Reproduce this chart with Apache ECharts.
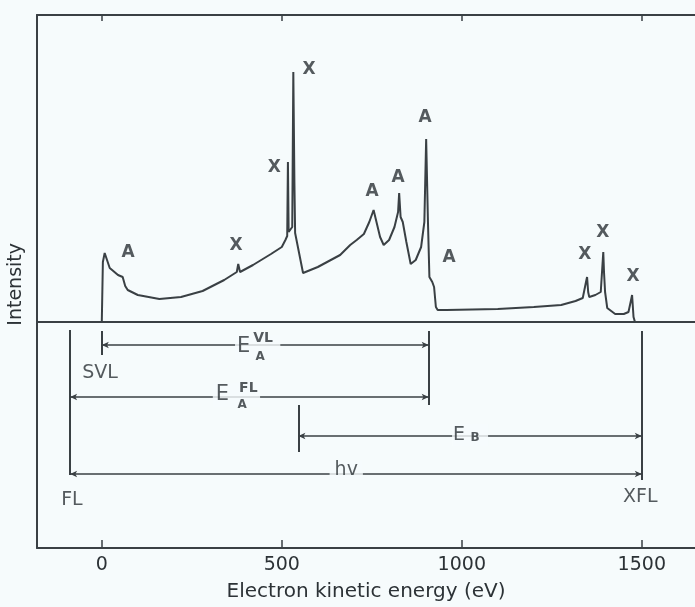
<!DOCTYPE html>
<html>
<head>
<meta charset="utf-8">
<script src="https://cdn.jsdelivr.net/npm/echarts@6/dist/echarts.min.js"></script>
<style>
  html, body { margin: 0; padding: 0; background: #f6fbfc; }
  #chart { width: 695px; height: 607px; }
</style>
</head>
<body>
<div id="chart"></div>
<script>
// Electron kinetic energy (eV) vs. intensity (arbitrary units)
const energy = [0, 3, 8, 22, 45, 58, 65, 72, 100, 160, 220, 280, 340, 375, 379, 384, 420, 470, 500, 510,
  515, 517, 519, 524, 529, 532, 535, 537, 559, 600, 662, 690, 708, 728, 743, 755, 763, 773, 783, 798,
  813, 823, 826, 830, 836, 846, 858, 872, 887, 896, 901, 906, 910, 918, 923, 928, 933, 958, 1100, 1200,
  1276, 1316, 1336, 1345, 1348, 1351, 1354, 1371, 1386, 1393, 1395, 1398, 1404, 1426, 1450, 1463, 1469, 1473, 1477, 1481];
const intensity = [0, 60, 69, 54, 47, 45, 36, 32, 27, 23, 25, 31, 42, 50, 58, 50, 57, 68, 75, 82,
  86, 160, 90, 92, 95, 250, 140, 89, 49, 55, 67, 77, 82, 88, 100, 112, 100, 85, 77, 82,
  95, 110, 129, 105, 100, 80, 58, 62, 75, 100, 183, 100, 45, 40, 35, 15, 12, 12, 13, 15,
  17, 21, 24, 40, 45, 30, 25, 27, 30, 70, 50, 30, 14, 8, 8, 10, 20, 27, 5, 0];

// Peak assignments: X = photoelectron line, A = Auger line
const peakTags = ['A', 'X', 'X', 'X', 'A', 'A', 'A', 'A', 'X', 'X', 'X'];
const peakTagE = [73, 373, 479, 576, 751, 823, 898, 965, 1342, 1392, 1476];
const peakTagI = [69, 76, 154, 252, 130, 144, 204, 64, 67, 89, 45];

// Energy-level diagram (lower panel)
const levelNames = ['SVL', 'FL', 'XFL'];
const levelLabelE = [-5, -83, 1496];
const levelLabelY = [175, 48, 51];
// vertical level markers: [energy, yTop, yBottom]
const markers = [[0, 217, 193], [908, 217, 143], [-88, 218, 73], [546, 143, 96], [1500, 217, 68]];
// double arrows: [from, to, height]
const spans = [[0, 908, 203], [-88, 908, 151], [546, 1500, 112], [-88, 1500, 74]];

const tickValues = [0, 500, 1000, 1500];

const ink = '#3a4044';
const textInk = '#2c3236';
const paper = '#f6fbfc';
const font = 'DejaVu Sans';
const pxPerEV = 0.36;
const xMin = -180, xMax = 1648;

const chart = echarts.init(document.getElementById('chart'), null, { renderer: 'canvas' });

const spectrum = energy.map((e, i) => [e, intensity[i]]);
const tags = peakTags.map((t, i) => ({ name: t, value: [peakTagE[i], peakTagI[i]] }));
const levelTags = levelNames.map((t, i) => ({ name: t, value: [levelLabelE[i], levelLabelY[i]] }));

const markerLines = markers.map(m => [{ coord: [m[0], m[1]] }, { coord: [m[0], m[2]] }]);
const arrowLines = spans.map(s => [{ coord: [s[0], s[2]] }, { coord: [s[1], s[2]] }]);

// quantity symbols sitting in the gaps of the arrows; the paper-coloured box opens the gap
const qty = [
  { value: [433, 201], label: { formatter: '{big|E}', padding: [2, 30, 2, 2], backgroundColor: paper } },
  { value: [448, 210], label: { formatter: '{sup|VL}' } },
  { value: [440, 191], label: { formatter: '{sub|A}' } },
  { value: [374, 153], label: { formatter: '{big|E}', padding: [2, 31, 2, 3], backgroundColor: paper } },
  { value: [407, 160], label: { formatter: '{sup|FL}' } },
  { value: [390, 143], label: { formatter: '{sub|A}' } },
  { value: [1023, 113], label: { formatter: '{mid|E}', padding: [2, 23, 2, 1], backgroundColor: paper } },
  { value: [1037, 110], label: { formatter: '{sub|B}' } },
  { value: [679, 78], label: { formatter: '{hv|hv}', padding: [0, 5, 0, 5], backgroundColor: paper } }
];

const gridWidth = (xMax - xMin) * pxPerEV;

const option = {
  backgroundColor: paper,
  animation: false,
  grid: [
    { left: 37, top: 15, width: gridWidth, height: 307, outerBoundsMode: 'none' },
    { left: 37, top: 322, width: gridWidth, height: 226, outerBoundsMode: 'none' }
  ],
  xAxis: [
    { gridIndex: 0, type: 'value', min: xMin, max: xMax, position: 'bottom',
      axisLine: { show: true, onZero: false, lineStyle: { color: ink, width: 2 } },
      axisTick: { show: false }, axisLabel: { show: false }, splitLine: { show: false } },
    { gridIndex: 0, type: 'value', min: xMin, max: xMax, position: 'top',
      axisLine: { show: true, onZero: false, lineStyle: { color: ink, width: 2 } },
      axisTick: { show: true, inside: true, length: 6, customValues: tickValues, lineStyle: { color: ink, width: 1.5 } },
      axisLabel: { show: false }, splitLine: { show: false } },
    { gridIndex: 1, type: 'value', min: xMin, max: xMax, position: 'bottom',
      axisLine: { show: true, onZero: false, lineStyle: { color: ink, width: 2 } },
      axisTick: { show: true, inside: true, length: 8, customValues: tickValues, lineStyle: { color: ink, width: 1.5 } },
      axisLabel: { show: true, customValues: tickValues, margin: 8, color: textInk, fontSize: 19, fontFamily: font,
        formatter: v => String(v) },
      splitLine: { show: false },
      name: 'Electron kinetic energy (eV)', nameLocation: 'middle', nameGap: 34,
      nameTextStyle: { color: textInk, fontSize: 20, fontFamily: font } }
  ],
  yAxis: [
    { gridIndex: 0, type: 'value', min: 0, max: 307,
      axisLine: { show: true, onZero: false, lineStyle: { color: ink, width: 2 } },
      axisTick: { show: false }, axisLabel: { show: false }, splitLine: { show: false } },
    { gridIndex: 1, type: 'value', min: 0, max: 226,
      axisLine: { show: true, onZero: false, lineStyle: { color: ink, width: 2 } },
      axisTick: { show: false }, axisLabel: { show: false }, splitLine: { show: false } }
  ],
  graphic: [
    { type: 'text', left: 7, top: 243, rotation: Math.PI / 2,
      style: { text: 'Intensity', fill: textInk, fontSize: 19, fontFamily: font } }
  ],
  series: [
    { type: 'line', xAxisIndex: 0, yAxisIndex: 0, data: spectrum, symbol: 'none',
      lineStyle: { color: ink, width: 2 }, z: 3 },
    { type: 'scatter', xAxisIndex: 0, yAxisIndex: 0, data: tags, symbolSize: 0,
      label: { show: true, position: 'inside', formatter: '{b}', color: textInk,
        fontSize: 17, fontWeight: 'bold', fontFamily: font }, z: 4 },
    { type: 'line', xAxisIndex: 2, yAxisIndex: 1, data: [], symbol: 'none',
      markLine: { silent: true, symbol: ['none', 'none'], label: { show: false },
        lineStyle: { color: ink, width: 2, type: 'solid' }, data: markerLines }, z: 2 },
    { type: 'line', xAxisIndex: 2, yAxisIndex: 1, data: [], symbol: 'none',
      markLine: { silent: true, symbol: ['arrow', 'arrow'], symbolSize: [5, 7], label: { show: false },
        lineStyle: { color: ink, width: 1.5, type: 'solid' }, data: arrowLines }, z: 2 },
    { type: 'scatter', xAxisIndex: 2, yAxisIndex: 1, data: levelTags, symbolSize: 0,
      label: { show: true, position: 'inside', formatter: '{b}', color: textInk,
        fontSize: 19, fontFamily: font }, z: 4 },
    { type: 'scatter', xAxisIndex: 2, yAxisIndex: 1, data: qty, symbolSize: 0, z: 5,
      label: { show: true, position: 'inside', color: textInk,
        rich: {
          big: { fontSize: 21, fontFamily: font, color: textInk },
          mid: { fontSize: 19, fontFamily: font, color: textInk },
          sup: { fontSize: 14, fontFamily: font, color: textInk, fontWeight: 'bold' },
          sub: { fontSize: 12, fontFamily: font, color: textInk, fontWeight: 'bold' },
          hv: { fontSize: 19, fontFamily: font, color: textInk }
        } } }
  ]
};

chart.setOption(option);
</script>
</body>
</html>
